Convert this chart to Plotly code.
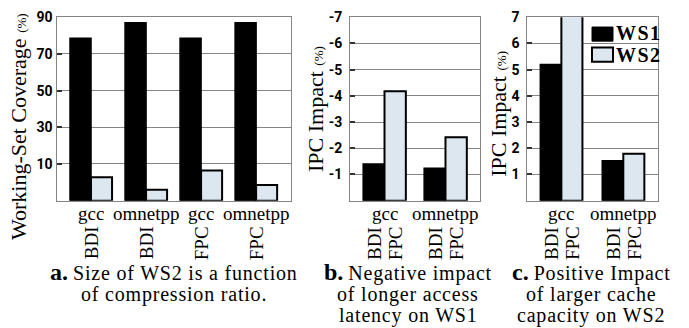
import plotly.graph_objects as go

W, H = 689, 328

# ---------------- data ----------------
# Panel a: working-set coverage (%)
a_bench = ["gcc", "omnetpp", "gcc", "omnetpp"]
a_scheme = ["BDI", "BDI", "FPC", "FPC"]
a_ws1 = [78.6, 87.0, 78.6, 87.0]
a_ws2 = [2.8, -4.1, 6.5, -1.5]
a_ticks = [10, 30, 50, 70, 90]
a_floor = -10

# Panel b: negative IPC impact (%)
b_bench = ["gcc", "omnetpp"]
b_scheme = ["BDI", "FPC"]
b_ws1 = [-1.4, -1.24]
b_ws2 = [-4.18, -2.42]
b_ticks = [-1, -2, -3, -4, -5, -6, -7]

# Panel c: positive IPC impact (%)
c_bench = ["gcc", "omnetpp"]
c_scheme = ["BDI", "FPC"]
c_ws1 = [5.2, 1.52]
c_ws2 = [7.05, 1.79]
c_ticks = [1, 2, 3, 4, 5, 6, 7]

series_names = ["WS1", "WS2"]
captions = {
    "a": ["Size of WS2 is a function", "of compression ratio."],
    "b": ["Negative impact", "of longer access", "latency on WS1"],
    "c": ["Positive Impact", "of larger cache", "capacity on WS2"],
}

# ---------------- style ----------------
BLACK = "#000000"
LIGHT = "#dde7f0"
GRID = "#858585"
SERIF = "Liberation Serif, Times New Roman, serif"
SANS = "Liberation Sans Narrow, Roboto, Arial, sans-serif"


def px(x):
    return x / W


def py(y):
    return 1 - y / H


fig = go.Figure()

# panel geometry (pixels)
panels = {
    "a": dict(x0=57.3, x1=290.5, xr=[-0.613, 3.625], w=0.382),
    "b": dict(x0=350, x1=480, xr=[-0.566, 1.566], w=0.35),
    "c": dict(x0=527.3, x1=658.3, xr=[-0.55, 1.565], w=0.34),
}
ytop, ybot = 9.5, 197.5

# Panel a bars (base at axis floor)
wa = panels["a"]["w"]
xa = list(range(len(a_bench)))
fig.add_trace(go.Bar(x=xa, y=[v - a_floor for v in a_ws1], base=a_floor, width=wa, offset=-wa,
                     marker=dict(color=BLACK, line=dict(color=BLACK, width=1.5)),
                     name=series_names[0], showlegend=False, xaxis="x", yaxis="y"))
fig.add_trace(go.Bar(x=xa, y=[v - a_floor for v in a_ws2], base=a_floor, width=wa, offset=0,
                     marker=dict(color=LIGHT, line=dict(color=BLACK, width=2)),
                     name=series_names[1], showlegend=False, xaxis="x", yaxis="y"))

# Panel b bars
wb = panels["b"]["w"]
xb = list(range(len(b_bench)))
fig.add_trace(go.Bar(x=xb, y=b_ws1, width=wb, offset=-wb,
                     marker=dict(color=BLACK, line=dict(color=BLACK, width=1.5)),
                     name=series_names[0], showlegend=False, xaxis="x2", yaxis="y2"))
fig.add_trace(go.Bar(x=xb, y=b_ws2, width=wb, offset=0,
                     marker=dict(color=LIGHT, line=dict(color=BLACK, width=2)),
                     name=series_names[1], showlegend=False, xaxis="x2", yaxis="y2"))

# Panel c bars
wc = panels["c"]["w"]
xc = list(range(len(c_bench)))
fig.add_trace(go.Bar(x=xc, y=c_ws1, width=wc, offset=-wc,
                     marker=dict(color=BLACK, line=dict(color=BLACK, width=1.5)),
                     name=series_names[0], showlegend=False, xaxis="x3", yaxis="y3"))
fig.add_trace(go.Bar(x=xc, y=c_ws2, width=wc, offset=0,
                     marker=dict(color=LIGHT, line=dict(color=BLACK, width=2)),
                     name=series_names[1], showlegend=False, xaxis="x3", yaxis="y3"))

ydom = [py(ybot), py(ytop)]


def xaxis_cfg(p):
    g = panels[p]
    return dict(domain=[px(g["x0"]), px(g["x1"])], range=g["xr"], showgrid=False, zeroline=False,
                showticklabels=False, ticks="", showline=True, mirror=True, linecolor=GRID, linewidth=1,
                fixedrange=True)


def yaxis_cfg(anchor, rng, ticks, standoff):
    return dict(domain=ydom, anchor=anchor, range=rng, tickvals=ticks, ticktext=[str(t) for t in ticks],
                showgrid=True, gridcolor=GRID, gridwidth=1, zeroline=False,
                showline=True, mirror=True, linecolor=GRID, linewidth=1,
                ticks="inside", ticklen=5, tickcolor="#333333", tickwidth=1.5,
                ticklabelstandoff=standoff,
                tickfont=dict(family=SANS, size=14, color="#000000", weight="bold"),
                fixedrange=True)


layout = dict(
    width=W, height=H, margin=dict(l=0, r=0, t=0, b=0),
    paper_bgcolor="white", plot_bgcolor="white", barmode="overlay", showlegend=False,
    xaxis=dict(**xaxis_cfg("a"), anchor="y"),
    xaxis2=dict(**xaxis_cfg("b"), anchor="y2"),
    xaxis3=dict(**xaxis_cfg("c"), anchor="y3"),
    yaxis=yaxis_cfg("x", [a_floor, 90], a_ticks, 1),
    yaxis2=yaxis_cfg("x2", [0, -7], b_ticks, 4),
    yaxis3=yaxis_cfg("x3", [0, 7], c_ticks, 4),
)
fig.update_layout(**layout)

ann = []
pct = "<span style='font-size:13px'>(%)</span>"
# y-axis titles
for (xc_, yc_, txt) in [(18.5, 121.5, "Working-Set Coverage " + pct),
                        (316, 103.5, "IPC Impact " + pct),
                        (499, 108.5, "IPC Impact " + pct)]:
    ann.append(dict(xref="paper", yref="paper", x=px(xc_), y=py(yc_), text=txt, textangle=-90,
                    showarrow=False, xanchor="center", yanchor="middle",
                    font=dict(family=SERIF, size=22, color="#000")))

cat_font = dict(family=SERIF, size=19, color="#000")
bench_y, scheme_y = 211, 241
# panel a category labels
for i, (bn, sc) in enumerate(zip(a_bench, a_scheme)):
    ann.append(dict(xref="x", yref="paper", x=i, y=py(bench_y), text=bn, showarrow=False,
                    xanchor="center", yanchor="middle", font=cat_font))
    ann.append(dict(xref="x", yref="paper", x=i, y=py(scheme_y), text=sc, textangle=-90, showarrow=False,
                    xanchor="center", yanchor="middle", font=cat_font))
# panel b/c category labels
for xr, benches, schemes, w in [("x2", b_bench, b_scheme, wb), ("x3", c_bench, c_scheme, wc)]:
    for i, bn in enumerate(benches):
        ann.append(dict(xref=xr, yref="paper", x=i, y=py(bench_y), text=bn, showarrow=False,
                        xanchor="center", yanchor="middle", font=cat_font))
        for j, sc in enumerate(schemes):
            ann.append(dict(xref=xr, yref="paper", x=i + (j - 0.5) * w, y=py(scheme_y), text=sc,
                            textangle=-90, showarrow=False, xanchor="center", yanchor="middle",
                            font=cat_font))

# captions (separate lines, tight leading)
CAP_FS = 20
cap_font = dict(family=SERIF, size=CAP_FS, color="#000")
cap_centers = {"a": 174.5, "b": 408, "c": 591}
baselines = [279, 301, 323]
for key, lines in captions.items():
    for k, line in enumerate(lines):
        body = "<span style='letter-spacing:0.8px'>" + line + "</span>"
        if k == 0:
            txt = "<b><span style='font-size:24px'>" + key + ".</span></b> " + body
            bottom = baselines[k] + 0.216 * 24 + 2
        else:
            txt = body
            bottom = baselines[k] + 0.216 * CAP_FS + 2
        ann.append(dict(xref="paper", yref="paper", x=px(cap_centers[key]), y=py(bottom), text=txt,
                        showarrow=False, xanchor="center", yanchor="bottom", font=cap_font))

# legend (panel c, upper right)
shapes = []
leg = [(series_names[0], BLACK, 19.5, 34, 26), (series_names[1], LIGHT, 40.5, 55, 48.5)]
for name, col, y0, y1, yt in leg:
    shapes.append(dict(type="rect", xref="paper", yref="paper", x0=px(592), x1=px(613), y0=py(y1), y1=py(y0),
                       fillcolor=col, line=dict(color=BLACK, width=2 if col == LIGHT else 1)))
    ann.append(dict(xref="paper", yref="paper", x=px(613.5), y=py(yt),
                    text="<b><span style='letter-spacing:1.5px'>" + name + "</span></b>",
                    showarrow=False, xanchor="left", yanchor="middle",
                    font=dict(family=SERIF, size=20, color="#000")))

fig.update_layout(annotations=ann, shapes=shapes)
fig.write_html("out.html", config={"displayModeBar": False},
               post_script="document.body.style.margin='0';document.body.style.overflow='hidden';")
